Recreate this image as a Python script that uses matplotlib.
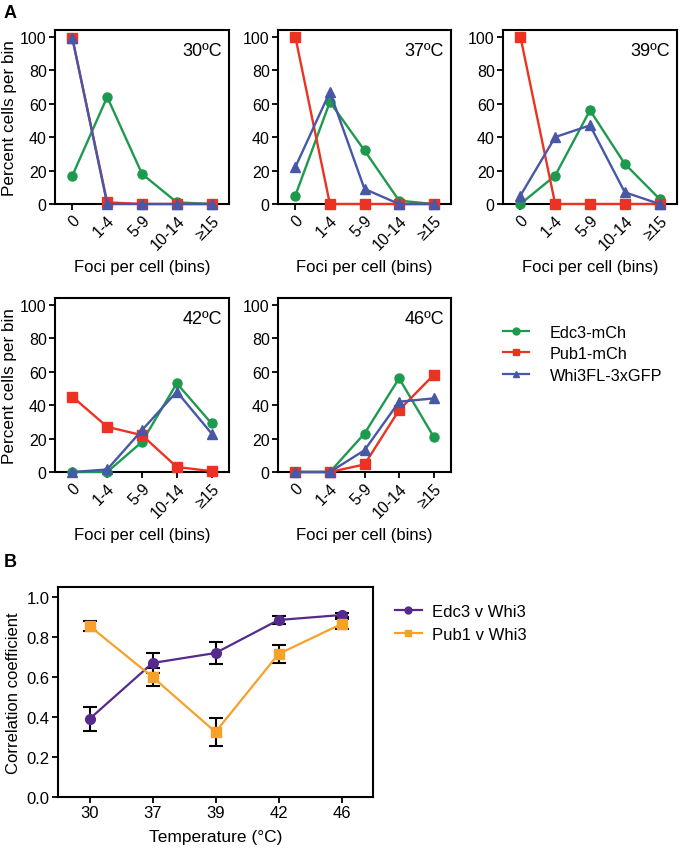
import matplotlib
matplotlib.use("Agg")
import matplotlib.pyplot as plt
from matplotlib.lines import Line2D

plt.rcParams["font.family"] = ["Liberation Sans", "DejaVu Sans"]

W, H = 683, 854

bins = ["0", "1-4", "5-9", "10-14", "≥15"]
temps_a = ["30ºC", "37ºC", "39ºC", "42ºC", "46ºC"]

edc3 = [
    [17, 64, 18, 1, 0],
    [5, 61, 32, 2, 0],
    [0, 17, 56, 24, 3],
    [0, 0, 18, 53, 29],
    [0, 0, 23, 56, 21],
]
pub1 = [
    [99, 1, 0, 0, 0],
    [100, 0, 0, 0, 0],
    [100, 0, 0, 0, 0],
    [45, 27, 22, 3, 0.5],
    [0, 0, 4.5, 37, 58],
]
whi3 = [
    [99, 0, 0, 0, 0],
    [22, 67, 9, 0, 0],
    [5, 40, 47, 7, 0],
    [0, 1.5, 25, 48, 23],
    [0, 0, 13, 42, 44],
]

temps_b = ["30", "37", "39", "42", "46"]
edc3_whi3 = [0.39, 0.67, 0.72, 0.885, 0.91]
edc3_err = [0.06, 0.05, 0.057, 0.02, 0.01]
pub1_whi3 = [0.855, 0.60, 0.325, 0.715, 0.865]
pub1_err = [0.025, 0.045, 0.07, 0.045, 0.025]

GREEN = "#1e9a4e"
RED = "#ea3323"
BLUE = "#4658a6"
PURPLE = "#552a8c"
ORANGE = "#f6a12a"

fig = plt.figure(figsize=(W / 100, H / 100), dpi=100)


def px_axes(x0, y0, x1, y1):
    # pixel box (left, top, right, bottom) -> figure fraction
    return fig.add_axes([x0 / W, 1 - y1 / H, (x1 - x0) / W, (y1 - y0) / H])


def style(ax, fs):
    for s in ax.spines.values():
        s.set_linewidth(1.5)
    ax.tick_params(direction="out", width=1.3, length=4, labelsize=fs, pad=2)


boxes = [
    (55, 31, 229, 205),
    (278, 31, 451, 205),
    (503, 31, 677, 205),
    (55, 299, 229, 473),
    (278, 299, 451, 473),
]

x = list(range(len(bins)))
for i, (bx, t) in enumerate(zip(boxes, temps_a)):
    ax = px_axes(*bx)
    ax.plot(x, edc3[i], color=GREEN, marker="o", ms=6.5, lw=1.7, clip_on=False, zorder=3)
    ax.plot(x, pub1[i], color=RED, marker="s", ms=6.5, lw=1.7, clip_on=False, zorder=3)
    ax.plot(x, whi3[i], color=BLUE, marker="^", ms=6.5, lw=1.7, clip_on=False, zorder=4)
    ax.set_xlim(-0.5, 4.5)
    ax.set_ylim(0, 104)
    ax.set_yticks([0, 20, 40, 60, 80, 100])
    ax.set_xticks(x)
    ax.set_xticklabels(bins, rotation=45, ha="right", rotation_mode="anchor")
    style(ax, 11.5)
    ax.text(0.96, 0.93, t, transform=ax.transAxes, ha="right", va="top", fontsize=13)
    ax.set_xlabel("Foci per cell (bins)", fontsize=12, labelpad=5)
    if i in (0, 3):
        ax.set_ylabel("Percent cells per bin", fontsize=12.3, labelpad=2)

# legend for panel A
handles_a = [
    Line2D([], [], color=GREEN, marker="o", ms=5, lw=1.6),
    Line2D([], [], color=RED, marker="s", ms=5, lw=1.6),
    Line2D([], [], color=BLUE, marker="^", ms=5, lw=1.6),
]
fig.legend(handles_a, ["Edc3-mCh", "Pub1-mCh", "Whi3FL-3xGFP"],
           loc="upper left", bbox_to_anchor=(488 / W, 1 - 311 / H),
           frameon=False, fontsize=11.7, handlelength=1.6, handletextpad=1.3,
           labelspacing=0.4)

# panel B
axb = px_axes(58, 588, 373, 798)
xb = list(range(len(temps_b)))
axb.errorbar(xb, edc3_whi3, yerr=edc3_err, color=PURPLE, marker="o", ms=7, lw=1.6,
             ecolor="black", elinewidth=1.5, capsize=5, capthick=1.5, zorder=3,
             clip_on=False)
axb.errorbar(xb, pub1_whi3, yerr=pub1_err, color=ORANGE, marker="s", ms=7, lw=1.6,
             ecolor="black", elinewidth=1.5, capsize=5, capthick=1.5, zorder=3,
             clip_on=False)
axb.set_xlim(-0.5, 4.5)
axb.set_ylim(0, 1.05)
axb.set_yticks([0.0, 0.2, 0.4, 0.6, 0.8, 1.0])
axb.set_yticklabels(["0.0", "0.2", "0.4", "0.6", "0.8", "1.0"])
axb.set_xticks(xb)
axb.set_xticklabels(temps_b)
style(axb, 12)
axb.set_xlabel("Temperature (°C)", fontsize=12.5, labelpad=6)
axb.set_ylabel("Correlation coefficient", fontsize=12, labelpad=4)

handles_b = [
    Line2D([], [], color=PURPLE, marker="o", ms=5, lw=1.6),
    Line2D([], [], color=ORANGE, marker="s", ms=5, lw=1.6),
]
fig.legend(handles_b, ["Edc3 v Whi3", "Pub1 v Whi3"],
           loc="upper left", bbox_to_anchor=(380 / W, 1 - 590 / H),
           frameon=False, fontsize=12, handlelength=1.6, handletextpad=0.6,
           labelspacing=0.5)

fig.text(4 / W, 1 - 14 / H, "A", fontsize=13, fontweight="bold", va="center")
fig.text(4 / W, 1 - 563 / H, "B", fontsize=13, fontweight="bold", va="center")

fig.savefig("out.png", dpi=100)
